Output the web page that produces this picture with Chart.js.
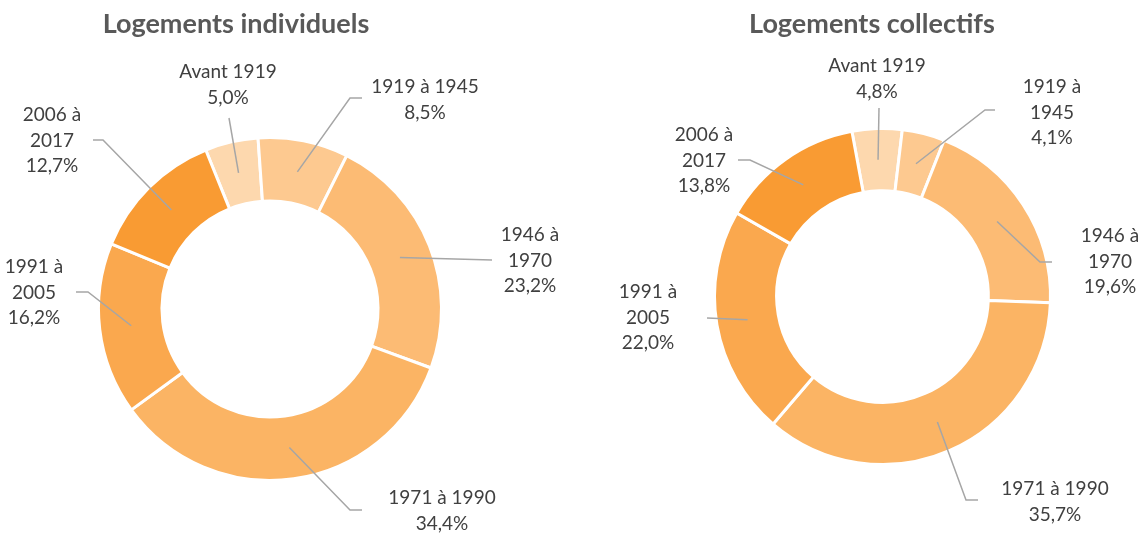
<!DOCTYPE html>
<html>
<head>
<meta charset="utf-8">
<script src="https://cdn.jsdelivr.net/npm/chart.js@4.4.1/dist/chart.umd.min.js"></script>
<style>
  html, body { margin: 0; padding: 0; background: #fff; }
  #wrap { position: relative; width: 1141px; height: 535px; }
  .box { position: absolute; top: 0; height: 535px; }
  #boxInd { left: 0; width: 570px; }
  #boxCol { left: 570px; width: 571px; }
</style>
</head>
<body>
<div id="wrap">
  <div class="box" id="boxInd"><canvas id="chartInd"></canvas></div>
  <div class="box" id="boxCol"><canvas id="chartCol"></canvas></div>
</div>
<script>
const periods = ['Avant 1919', '1919 à 1945', '1946 à 1970', '1971 à 1990', '1991 à 2005', '2006 à 2017'];
const individuels = [5.0, 8.5, 23.2, 34.4, 16.2, 12.7];
const collectifs = [4.8, 4.1, 19.6, 35.7, 22.0, 13.8];

// how each period label wraps in each chart
const labelsInd = [['Avant 1919'], ['1919 à 1945'], ['1946 à', '1970'], ['1971 à 1990'], ['1991 à', '2005'], ['2006 à', '2017']];
const labelsCol = [['Avant 1919'], ['1919 à', '1945'], ['1946 à', '1970'], ['1971 à 1990'], ['1991 à', '2005'], ['2006 à', '2017']];

const colors = ['#FDD8AE', '#FDC990', '#FCBB74', '#FBB464', '#FAA84E', '#F99B33'];

// label text anchor (centre of first line) and leader line bend points, page coords
const placeInd = [
  { x: 228, y: 72, path: [[229, 118]] },
  { x: 425, y: 87, path: [[350, 98], [362, 98]] },
  { x: 530, y: 235, path: [[492, 260]] },
  { x: 442, y: 498, path: [[350, 510], [362, 510]] },
  { x: 34, y: 267, path: [[88, 292], [76, 292]] },
  { x: 52, y: 115, path: [[103, 140], [93, 140]] }
];
const placeCol = [
  { x: 877, y: 66, path: [[879, 108]] },
  { x: 1052, y: 87, path: [[985, 110], [995, 110]] },
  { x: 1110, y: 236, path: [[1040, 262], [1052, 262]] },
  { x: 1055, y: 489, path: [[966, 500], [978, 500]] },
  { x: 648, y: 292, path: [[707, 318]] },
  { x: 704, y: 135, path: [[750, 160], [738, 160]] }
];

const FONT = 'Lato, "Noto Sans", sans-serif';

const calloutPlugin = {
  id: 'callouts',
  afterDraw(chart, args, opts) {
    const ctx = chart.ctx;
    const meta = chart.getDatasetMeta(0);
    const values = chart.data.datasets[0].data;
    ctx.save();
    // title
    ctx.fillStyle = '#595959';
    ctx.font = 'bold 27px ' + FONT;
    ctx.textAlign = 'center';
    ctx.textBaseline = 'middle';
    ctx.fillText(opts.title, opts.titleX - opts.offset, 24);

    meta.data.forEach((arc, i) => {
      const p = arc.getProps(['x', 'y', 'startAngle', 'endAngle', 'innerRadius', 'outerRadius'], true);
      const mid = (p.startAngle + p.endAngle) / 2;
      const r = (p.innerRadius + p.outerRadius) / 2;
      const ax = p.x + Math.cos(mid) * r;
      const ay = p.y + Math.sin(mid) * r;
      const place = opts.places[i];

      ctx.strokeStyle = '#A6A6A6';
      ctx.lineWidth = 1.5;
      ctx.beginPath();
      ctx.moveTo(ax, ay);
      place.path.forEach(pt => ctx.lineTo(pt[0] - opts.offset, pt[1]));
      ctx.stroke();

      const lines = opts.labels[i].concat([values[i].toFixed(1).replace('.', ',') + '%']);
      ctx.fillStyle = '#404040';
      ctx.font = '19px ' + FONT;
      lines.forEach((t, k) => ctx.fillText(t, place.x - opts.offset, place.y + k * 25.5));
    });
    ctx.restore();
  }
};

function makeDonut(id, values, rotation, padding, opts) {
  return new Chart(document.getElementById(id), {
    type: 'doughnut',
    data: {
      labels: periods,
      datasets: [{
        data: values,
        backgroundColor: colors,
        borderColor: '#ffffff',
        borderWidth: 3
      }]
    },
    options: {
      responsive: true,
      maintainAspectRatio: false,
      animation: false,
      cutout: '63%',
      rotation: rotation,
      layout: { padding: padding },
      plugins: {
        legend: { display: false },
        title: { display: false },
        tooltip: { enabled: false },
        callouts: opts
      }
    },
    plugins: [calloutPlugin]
  });
}

makeDonut('chartInd', individuels, -22,
  { left: 97, right: 127, top: 136, bottom: 53 },
  { title: 'Logements individuels', titleX: 236, offset: 0, labels: labelsInd, places: placeInd });

makeDonut('chartCol', collectifs, -10.5,
  { left: 143, right: 89, top: 127, bottom: 69 },
  { title: 'Logements collectifs', titleX: 872, offset: 570, labels: labelsCol, places: placeCol });
</script>
</body>
</html>
